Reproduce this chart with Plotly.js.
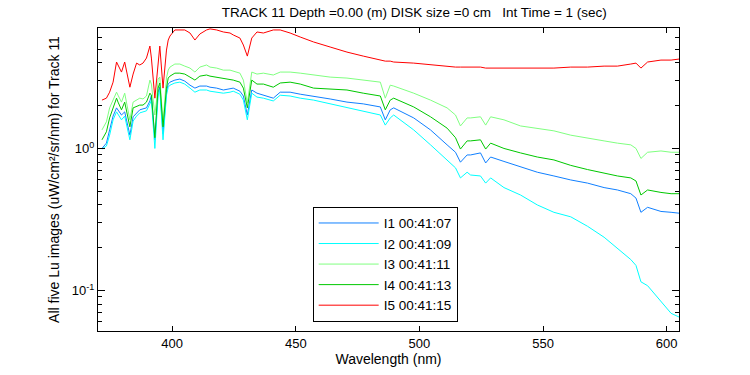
<!DOCTYPE html>
<html>
<head>
<meta charset="utf-8">
<script src="https://cdn.plot.ly/plotly-3.0.1.min.js"></script>
<style>html,body{margin:0;padding:0;background:#fff;}#chart{width:750px;height:375px;}</style>
</head>
<body>
<div id="chart"></div>
<script>
// Wavelength (nm)
const wavelength = [371.6,373.4,374.7,376.1,377.5,378.1,379.5,380.8,382.9,384.2,
385.6,386.9,388.2,389.6,391.0,391.6,393.0,393.7,394.3,395.0,
396.3,397.7,398.4,399.1,401.1,403.1,405.1,407.2,409.2,411.2,
413.9,415.3,418.0,420.7,423.4,424.7,427.4,428.8,430.4,432.2,
434.3,436.9,440.9,443.7,447.7,451.8,457.2,463.9,470.7,477.3,
484.2,486.2,488.2,489.6,497.7,504.5,511.2,514.6,516.6,519.3,
520.7,524.7,526.8,528.8,534.2,540.9,547.7,554.4,561.2,568.0,
574.7,580.1,585.5,587.6,589.6,592.3,597.7,601.8,605.0];

const I1 = [1.00,1.09,1.35,1.69,1.93,1.87,1.72,1.81,1.24,1.67,
1.78,1.87,1.90,1.93,2.16,2.37,1.15,1.87,2.49,2.70,
1.27,2.49,2.84,2.93,3.03,3.08,2.98,2.79,2.66,2.75,
2.75,2.70,2.66,2.58,2.62,2.66,2.53,2.34,1.72,2.58,
2.45,2.37,2.26,2.49,2.49,2.41,2.34,2.23,2.12,2.06,
1.96,1.59,1.87,1.93,1.64,1.35,1.06,0.94,0.80,0.90,
0.90,0.93,0.79,0.87,0.81,0.74,0.68,0.64,0.60,0.57,
0.53,0.51,0.48,0.447,0.355,0.385,0.36,0.355,0.35];

const I2 = [0.99,1.04,1.24,1.59,1.81,1.75,1.59,1.69,1.15,1.56,
1.69,1.78,1.81,1.84,2.06,2.19,1.00,1.64,2.34,2.58,
1.15,2.37,2.70,2.79,2.89,2.93,2.84,2.66,2.49,2.58,
2.58,2.53,2.49,2.45,2.49,2.53,2.41,2.19,1.59,2.45,
2.30,2.26,2.16,2.37,2.34,2.26,2.19,2.06,1.96,1.84,
1.72,1.46,1.64,1.72,1.35,1.06,0.83,0.73,0.62,0.68,
0.65,0.64,0.57,0.62,0.53,0.47,0.40,0.355,0.33,0.283,
0.237,0.198,0.165,0.150,0.115,0.108,0.084,0.069,0.065];

const I3 = [1.35,1.54,1.93,2.19,2.49,2.37,2.12,2.45,1.59,2.12,
2.19,2.26,2.23,2.34,3.03,2.84,1.72,2.19,3.08,3.18,
1.51,3.13,3.56,3.74,3.93,3.93,3.80,3.68,3.45,3.74,
3.87,3.74,3.68,3.56,3.56,3.51,3.39,3.03,2.09,3.45,
3.34,3.39,3.29,3.45,3.45,3.39,3.29,3.18,3.13,3.03,
2.93,2.26,2.79,2.75,2.45,2.19,1.93,1.72,1.44,1.64,
1.64,1.67,1.46,1.67,1.59,1.44,1.39,1.33,1.24,1.19,
1.13,1.09,1.06,1.00,0.85,0.94,0.96,0.94,0.94];

const I4 = [1.15,1.31,1.64,1.93,2.26,2.12,1.87,2.12,1.42,1.93,
1.99,2.02,2.02,2.12,2.45,2.37,1.19,1.72,2.66,2.89,
1.42,2.66,3.13,3.23,3.39,3.39,3.34,3.18,3.03,3.23,
3.29,3.23,3.18,3.13,3.08,3.03,2.93,2.66,1.93,3.03,
2.84,2.84,2.70,2.89,2.93,2.84,2.66,2.62,2.58,2.45,
2.34,1.87,2.19,2.26,1.96,1.67,1.39,1.19,0.99,1.13,
1.13,1.15,0.99,1.09,1.00,0.93,0.87,0.83,0.76,0.71,
0.67,0.64,0.62,0.59,0.47,0.51,0.49,0.48,0.48];

const I5 = [2.19,2.26,2.49,2.93,4.06,3.87,3.45,4.06,2.70,3.34,
3.99,3.87,3.99,4.33,5.26,4.33,2.26,3.03,4.19,5.26,
2.66,4.93,5.80,6.19,6.83,6.83,6.83,6.50,5.80,6.40,
6.83,6.95,6.83,6.61,6.50,6.30,5.99,5.35,4.47,5.99,
6.61,6.50,6.83,6.83,6.50,6.09,5.62,5.18,4.77,4.47,
4.19,4.12,4.12,4.06,3.99,3.87,3.80,3.74,3.74,3.74,
3.74,3.74,3.68,3.68,3.68,3.68,3.68,3.68,3.74,3.74,
3.80,3.80,3.93,3.99,3.68,4.06,4.19,4.19,4.26];

const seriesNames = ['I1 00:41:07','I2 00:41:09','I3 00:41:11','I4 00:41:13','I5 00:41:15'];
const seriesColors = ['#1080ff','#00ffff','#80ff80','#00c800','#ff0000'];
const seriesData = [I1, I2, I3, I4, I5];

const xTicks = [400,450,500,550,600];
const yTicks = [0.1, 1];
const yTickText = ['10<sup>-1</sup>','10<sup>0</sup>'];
const yMinor = [0.06,0.07,0.08,0.09,0.2,0.3,0.4,0.5,0.6,0.7,0.8,0.9,2,3,4,5,6,7];

const traces = seriesData.map((d, i) => ({
  type: 'scatter', mode: 'lines', x: wavelength, y: d, name: seriesNames[i],
  line: {color: seriesColors[i], width: 1}
}));

const font = 'Liberation Sans, Arial, Helvetica, sans-serif';
const layout = {
  width: 750, height: 375,
  margin: {l: 98, r: 71, t: 28, b: 44},
  paper_bgcolor: '#fff', plot_bgcolor: '#fff',
  font: {family: font, size: 13, color: '#000'},
  title: {text: 'TRACK 11 Depth =0.00 (m) DISK size =0 cm\u00a0\u00a0 Int Time = 1 (sec)', font: {size: 13.5, family: font, color: '#000'}, x: 0.5525, xanchor: 'center', y: 0.968, yanchor: 'middle'},
  showlegend: true,
  legend: {x: 0.3695, y: 0.0307, xanchor: 'left', yanchor: 'bottom', bgcolor: '#fff', bordercolor: '#000', borderwidth: 1, font: {size: 13.5, family: font}, itemwidth: 60, tracegroupgap: 0},
  xaxis: {range: [370, 605], tickvals: xTicks, ticks: 'inside', ticklen: 5, tickcolor: '#000', mirror: 'allticks', showline: true, linecolor: '#000', linewidth: 1, showgrid: false, zeroline: false, tickfont: {size: 13},
    title: {text: 'Wavelength (nm)', font: {size: 14}, standoff: 4}},
  yaxis: {type: 'log', range: [Math.log10(0.0518), Math.log10(7.05)], tickvals: yTicks, ticktext: yTickText, ticks: 'inside', ticklen: 7, tickcolor: '#000', mirror: 'allticks', showline: true, linecolor: '#000', linewidth: 1, showgrid: false, zeroline: false, tickfont: {size: 13},
    minor: {tickmode: 'array', tickvals: yMinor, ticks: 'inside', ticklen: 4, tickcolor: '#000', showgrid: false},
    title: {text: 'All five Lu images (uW/cm\u00b2/sr/nm) for Track 11', font: {size: 14}, standoff: 8}}
};

Plotly.newPlot('chart', traces, layout, {displayModeBar: false, staticPlot: true});
</script>
</body>
</html>
